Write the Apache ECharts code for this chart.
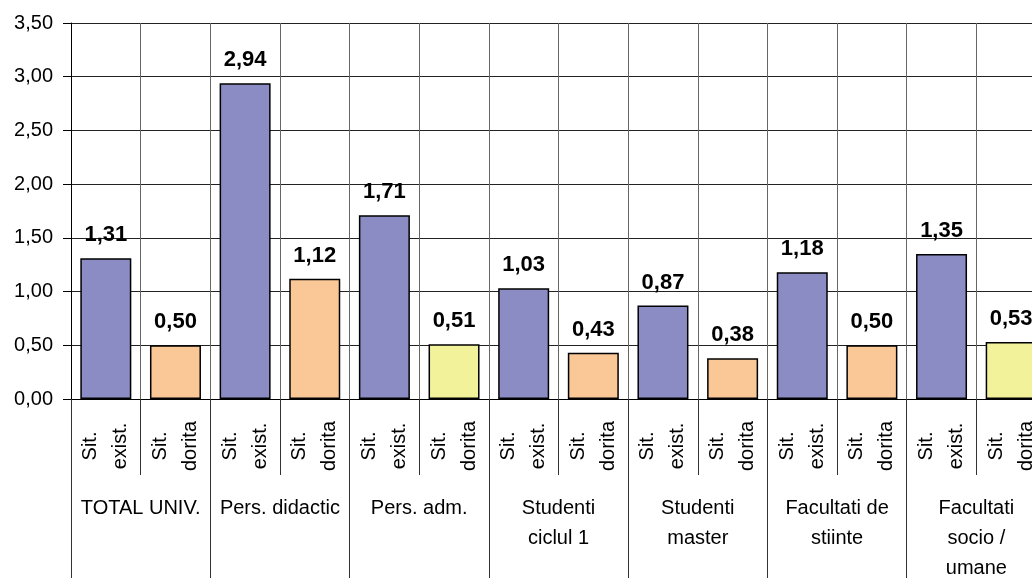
<!DOCTYPE html>
<html>
<head>
<meta charset="utf-8">
<script src="https://cdn.jsdelivr.net/npm/echarts@6/dist/echarts.min.js"></script>
<style>
  html, body { margin: 0; padding: 0; background: #fff; }
  #main { width: 1032px; height: 578px; }
</style>
</head>
<body>
<div id="main"></div>
<script>
var barLabels = ['Sit.\nexist.', 'Sit.\ndorita', 'Sit.\nexist.', 'Sit.\ndorita', 'Sit.\nexist.', 'Sit.\ndorita',
  'Sit.\nexist.', 'Sit.\ndorita', 'Sit.\nexist.', 'Sit.\ndorita', 'Sit.\nexist.', 'Sit.\ndorita',
  'Sit.\nexist.', 'Sit.\ndorita'];
var groupLabels = ['TOTAL UNIV.', 'Pers. didactic', 'Pers. adm.', 'Studenti\nciclul 1',
  'Studenti\nmaster', 'Facultati de\nstiinte', 'Facultati\nsocio /\numane'];
var values = [1.31, 0.50, 2.94, 1.12, 1.71, 0.51, 1.03, 0.43, 0.87, 0.38, 1.18, 0.50, 1.35, 0.53];
// culoare pe bara: e = existent, d = dorit, g = dorit (galben)
var colorKeys = ['e', 'd', 'e', 'd', 'e', 'g', 'e', 'd', 'e', 'd', 'e', 'd', 'e', 'g'];
var palette = { e: '#8b8cc4', d: '#fac796', g: '#f2f29a' };

var font = '"Liberation Sans", Arial, sans-serif';
function fmt(v) { return v.toFixed(2).replace('.', ','); }

var myChart = echarts.init(document.getElementById('main'));
var option = {
  animation: false,
  grid: { left: 71, top: 23, right: -14, bottom: 179, outerBoundsMode: 'none', containLabel: false },
  xAxis: [{
    type: 'category',
    data: barLabels,
    axisLine: { lineStyle: { color: '#000', width: 1 } },
    axisTick: { show: true, length: 76, interval: 0, lineStyle: { color: '#333' } },
    splitLine: { show: true, interval: 0, lineStyle: { color: '#666', width: 1 } },
    axisLabel: {
      interval: 0, rotate: 90, margin: 47, align: 'center', verticalAlign: 'middle',
      fontFamily: font, fontSize: 20, color: '#000', lineHeight: 30
    }
  }, {
    type: 'category',
    data: groupLabels,
    position: 'bottom',
    axisLine: { show: false },
    axisTick: { show: true, length: 180, interval: 0, lineStyle: { color: '#333' } },
    splitLine: { show: false },
    axisLabel: {
      interval: 0, margin: 94,
      fontFamily: font, fontSize: 20, color: '#000', lineHeight: 30, align: 'center'
    }
  }],
  yAxis: {
    type: 'value',
    min: 0, max: 3.5, interval: 0.5,
    axisLine: { show: true, lineStyle: { color: '#000' } },
    axisTick: { show: true, length: 8, lineStyle: { color: '#000' } },
    splitLine: { show: true, lineStyle: { color: '#222', width: 1 } },
    axisLabel: {
      margin: 18, fontFamily: font, fontSize: 20, color: '#000',
      formatter: function (v) { return fmt(v); }
    }
  },
  series: [{
    type: 'bar',
    xAxisIndex: 0,
    barWidth: 51,
    data: values.map(function (v, i) {
      return { value: v, itemStyle: { color: palette[colorKeys[i]] } };
    }),
    itemStyle: { borderColor: '#000', borderWidth: 1.5 },
    label: {
      show: true, position: 'top', distance: 12,
      fontFamily: font, fontSize: 22, fontWeight: 'bold', color: '#000',
      formatter: function (p) { return fmt(p.value); }
    }
  }]
};
myChart.setOption(option);
</script>
</body>
</html>
